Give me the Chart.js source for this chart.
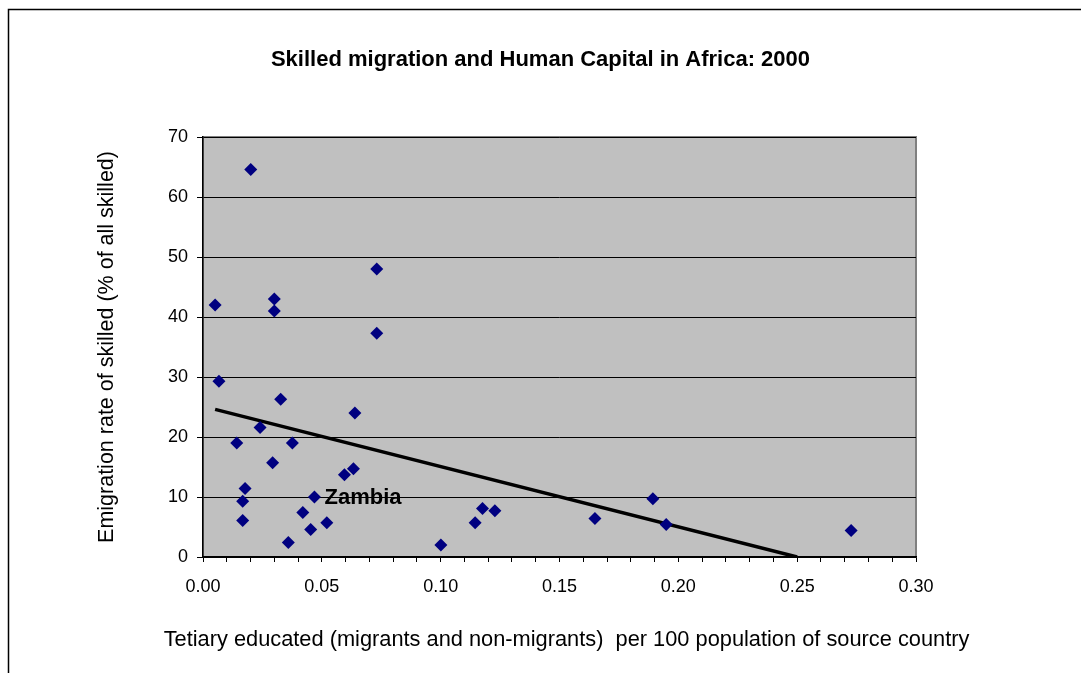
<!DOCTYPE html>
<html>
<head>
<meta charset="utf-8">
<script src="https://cdn.jsdelivr.net/npm/chart.js@4/dist/chart.umd.min.js"></script>
<style>
  html, body { margin: 0; padding: 0; background: #fff; }
  #chart { display: block; }
</style>
</head>
<body>
<canvas id="chart" width="1081" height="673"></canvas>
<script>
// tertiary educated per 100 population (x) vs emigration rate of skilled (y)
const tertiary = [0.0051, 0.0201, 0.030, 0.030, 0.0731, 0.0067, 0.0142, 0.024, 0.0327, 0.0376,
  0.0293, 0.0177, 0.0167, 0.0167, 0.0359, 0.042, 0.0453, 0.0469, 0.0521, 0.0595,
  0.0633, 0.0639, 0.0731, 0.1001, 0.1145, 0.1176, 0.1228, 0.1649, 0.1893, 0.1949, 0.2727]
const emigration = [42.0, 64.6, 43.0, 41.0, 48.0, 29.3, 19.0, 21.6, 26.3, 19.0,
  15.7, 11.4, 9.3, 6.1, 2.4, 7.4, 4.6, 10.0, 5.7, 13.7,
  14.7, 24.0, 37.3, 2.0, 5.7, 8.1, 7.7, 6.4, 9.7, 5.4, 4.4]
// only one point carries a name on the chart
const pointNames = ['', '', '', '', '', '', '', '', '', '',
  '', '', '', '', '', '', '', 'Zambia', '', '',
  '', '', '', '', '', '', '', '', '', '', '']
// linear trend line end points
const trendX = [0.0051, 0.25]
const trendY = [24.6, 0]

const yTicks = [0, 10, 20, 30, 40, 50, 60, 70]

const xTitle = 'Tetiary educated (migrants and non-migrants)  per 100 population of source country'

const FONT = '"Liberation Sans", Arial, sans-serif'

const frame = {
  id: 'frame',
  beforeDraw (chart) {
    const { ctx, chartArea: a } = chart
    ctx.save()
    ctx.fillStyle = '#fff'
    ctx.fillRect(0, 0, chart.width, chart.height)
    ctx.strokeStyle = '#000'
    ctx.lineWidth = 1.5
    ctx.beginPath()
    ctx.moveTo(8.5, chart.height)
    ctx.lineTo(8.5, 9.5)
    ctx.lineTo(chart.width, 9.5)
    ctx.stroke()
    ctx.fillStyle = '#c0c0c0'
    ctx.fillRect(a.left, a.top, a.right - a.left, a.bottom - a.top)
    ctx.strokeStyle = '#808080'
    ctx.lineWidth = 2
    ctx.strokeRect(a.left, a.top, a.right - a.left, a.bottom - a.top)
    ctx.restore()
  },
  afterDraw (chart) {
    // x axis title is wider than the axis, so it is drawn here without squeezing
    const { ctx, chartArea: a } = chart
    ctx.save()
    ctx.font = '21.8px ' + FONT
    ctx.fillStyle = '#000'
    ctx.textAlign = 'center'
    ctx.textBaseline = 'middle'
    ctx.fillText(xTitle, (a.left + a.right) / 2 + 7, 640)
    ctx.restore()
  },
  afterDatasetsDraw (chart) {
    const { ctx, scales } = chart
    ctx.save()
    ctx.font = 'bold 22px ' + FONT
    ctx.fillStyle = '#000'
    ctx.textBaseline = 'middle'
    pointNames.forEach((name, i) => {
      if (!name) return
      const px = scales.x.getPixelForValue(tertiary[i])
      const py = scales.y.getPixelForValue(emigration[i])
      ctx.fillText(name, px + 10, py + 1)
    })
    ctx.restore()
  }
}

const points = tertiary.map((x, i) => ({ x, y: emigration[i] }))
const trend = trendX.map((x, i) => ({ x, y: trendY[i] }))

new Chart(document.getElementById('chart'), {
  type: 'scatter',
  data: {
    datasets: [
      {
        data: points,
        pointStyle: 'rectRot',
        pointRadius: 6.5,
        pointBackgroundColor: '#000080',
        pointBorderColor: '#000080',
        pointBorderWidth: 0
      },
      {
        type: 'line',
        data: trend,
        borderColor: '#000',
        borderWidth: 3.5,
        pointRadius: 0,
        fill: false
      }
    ]
  },
  options: {
    responsive: false,
    animation: false,
    layout: { padding: 0 },
    plugins: {
      legend: { display: false },
      tooltip: { enabled: false },
      title: {
        display: true,
        text: 'Skilled migration and Human Capital in Africa: 2000',
        color: '#000',
        font: { family: FONT, size: 22, weight: 'bold' },
        padding: { top: 47, bottom: 63.6 }
      }
    },
    scales: {
      x: {
        type: 'linear',
        min: 0,
        max: 0.3,
        afterFit (scale) { scale.height = 116 },
        ticks: {
          stepSize: 0.01,
          autoSkip: false,
          maxRotation: 0,
          padding: 14,
          color: '#000',
          font: { family: FONT, size: 18 },
          callback (v) {
            const n = Math.round(v * 100)
            return n % 5 === 0 ? (n / 100).toFixed(2) : ''
          }
        },
        grid: { drawOnChartArea: false, color: '#000', tickLength: 5 },
        border: { color: '#000', width: 1.5 }
      },
      y: {
        min: 0,
        max: 70,
        afterFit (scale) { scale.width = 203 },
        afterBuildTicks (scale) { scale.ticks = yTicks.map(v => ({ value: v })) },
        ticks: {
          padding: 9,
          color: '#000',
          font: { family: FONT, size: 18 }
        },
        grid: { color: '#000', lineWidth: 1, tickLength: 6 },
        border: { color: '#000', width: 1.5 },
        title: {
          display: true,
          text: 'Emigration rate of skilled (% of all skilled)',
          color: '#000',
          font: { family: FONT, size: 21.5 },
          padding: { top: 94, bottom: 0 }
        }
      },
      // empty right-hand axis that only keeps the white margin beside the plot
      spacer: {
        type: 'linear',
        position: 'right',
        afterFit (scale) { scale.width = 165 },
        ticks: { display: false },
        grid: { display: false, drawTicks: false },
        border: { display: false }
      }
    }
  },
  plugins: [frame]
})
</script>
</body>
</html>
